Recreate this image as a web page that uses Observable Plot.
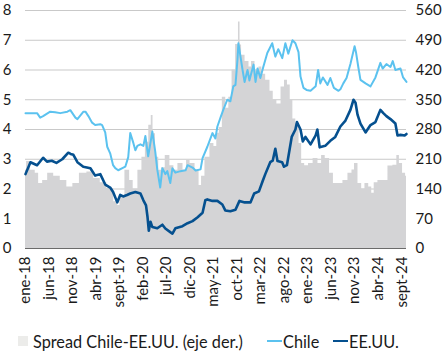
<!DOCTYPE html>
<html><head><meta charset="utf-8">
<script src="https://cdn.jsdelivr.net/npm/d3@7"></script>
<script src="https://cdn.jsdelivr.net/npm/@observablehq/plot@0.6"></script>
<style>
body{margin:0;background:#fff;font-family:Lato,"Open Sans",sans-serif;color:#1a1a1a;}
#wrap{position:relative;width:444px;height:351px;}
#legend{position:absolute;left:0;top:330px;width:444px;height:22px;font-size:16.3px;}
#legend .it{position:absolute;top:0;height:22px;display:flex;align-items:center;white-space:nowrap;}
#legend .sw{width:10px;height:10px;margin-right:5px;}
#legend .ln{width:15px;height:0;margin-right:1px;}
</style></head><body>
<div id="wrap"><div id="chart"></div>
<div id="legend">
  <div class="it" style="left:18px"><span class="sw" style="background:#ececea"></span>Spread Chile-EE.UU. (eje der.)</div>
  <div class="it" style="left:267px"><span class="ln" style="border-top:2.5px solid #5bc2ef"></span>Chile</div>
  <div class="it" style="left:333px"><span class="ln" style="border-top:2.5px solid #05508f"></span>EE.UU.</div>
</div></div>
<script>
const chileDates = ["2018-01-01","2018-02-02","2018-03-17","2018-04-06","2018-04-25","2018-06-10","2018-07-12","2018-08-14","2018-09-29","2018-10-18","2018-11-20","2018-12-03","2019-01-11","2019-01-24","2019-02-12","2019-03-08","2019-03-28","2019-04-30","2019-05-12","2019-06-01","2019-06-14","2019-07-03","2019-07-22","2019-08-05","2019-08-24","2019-09-20","2019-10-09","2019-10-28","2019-11-10","2019-11-30","2019-12-13","2019-12-26","2020-01-15","2020-02-03","2020-02-16","2020-03-05","2020-03-18","2020-04-01","2020-04-20","2020-05-03","2020-05-22","2020-06-05","2020-06-24","2020-07-07","2020-07-26","2020-08-09","2020-08-28","2020-09-30","2020-11-02","2020-11-15","2020-12-17","2021-01-06","2021-02-07","2021-02-20","2021-03-23","2021-04-25","2021-05-14","2021-05-27","2021-06-16","2021-07-04","2021-07-30","2021-08-19","2021-09-07","2021-09-21","2021-10-04","2021-10-10","2021-11-06","2021-11-19","2021-12-08","2021-12-20","2022-01-16","2022-01-29","2022-02-11","2022-03-01","2022-03-20","2022-04-15","2022-05-17","2022-06-06","2022-06-25","2022-07-21","2022-08-10","2022-08-29","2022-09-25","2022-10-14","2022-11-03","2022-11-16","2022-12-05","2022-12-25","2023-01-20","2023-02-22","2023-03-10","2023-03-24","2023-04-10","2023-05-10","2023-05-28","2023-06-20","2023-07-20","2023-08-01","2023-08-20","2023-09-10","2023-10-05","2023-11-01","2023-11-10","2023-11-25","2023-12-09","2024-01-11","2024-02-12","2024-03-15","2024-04-16","2024-05-01","2024-05-25","2024-06-20","2024-07-05","2024-07-22","2024-08-24","2024-09-10","2024-10-02"];
const chileRates = [4.55,4.55,4.55,4.4,4.45,4.6,4.58,4.55,4.6,4.65,4.4,4.35,4.6,4.6,4.45,4.23,4.15,4.18,4.15,3.9,3.42,3.2,2.8,2.7,2.63,2.7,2.75,3.07,3.88,3.55,3.3,3.45,3.5,3.45,3.78,3.1,3.5,3.93,3.25,2.65,2.05,2.7,2.5,2.6,2.2,2.7,2.55,2.6,2.63,2.8,2.72,2.62,2.66,3.04,3.42,3.88,3.7,4.1,4.4,4.66,5.0,4.95,5.45,5.5,6.35,6.9,6.0,5.6,6.0,5.65,6.18,5.6,6.05,5.73,6.1,6.57,6.9,6.45,6.7,6.4,6.9,6.55,7.0,6.9,6.6,5.78,5.4,5.33,5.3,5.45,6.0,5.55,5.75,5.5,5.73,5.4,5.3,5.35,5.55,5.73,6.2,6.8,6.6,6.1,5.67,5.55,5.45,5.75,6.24,6.05,6.2,6.1,6.3,6.0,6.05,5.75,5.6];

const usDates = ["2018-01-01","2018-02-02","2018-03-17","2018-04-25","2018-05-20","2018-06-20","2018-07-20","2018-08-27","2018-10-05","2018-10-20","2018-11-07","2018-12-03","2019-01-10","2019-02-25","2019-03-28","2019-04-30","2019-06-01","2019-07-03","2019-07-22","2019-08-18","2019-09-06","2019-09-25","2019-10-20","2019-11-10","2019-12-13","2020-01-15","2020-02-03","2020-02-20","2020-03-01","2020-03-09","2020-03-20","2020-04-01","2020-05-03","2020-06-05","2020-06-24","2020-07-26","2020-08-09","2020-08-28","2020-10-13","2020-11-15","2020-12-17","2021-01-19","2021-02-20","2021-03-10","2021-03-23","2021-04-25","2021-05-27","2021-06-28","2021-07-17","2021-08-19","2021-09-21","2021-10-17","2021-11-20","2021-12-27","2022-01-20","2022-02-20","2022-03-15","2022-04-02","2022-05-04","2022-05-20","2022-06-06","2022-06-20","2022-07-20","2022-08-01","2022-08-20","2022-09-20","2022-10-14","2022-10-24","2022-11-16","2022-12-01","2022-12-18","2023-01-20","2023-02-22","2023-03-05","2023-03-20","2023-04-25","2023-05-28","2023-06-29","2023-08-01","2023-09-03","2023-10-05","2023-10-25","2023-11-07","2023-11-20","2023-12-09","2024-01-11","2024-02-12","2024-03-15","2024-04-16","2024-05-05","2024-05-25","2024-06-20","2024-07-22","2024-08-05","2024-08-24","2024-09-20","2024-10-02"];
const usRates = [2.5,2.9,2.8,3.05,2.92,2.95,2.88,3.0,3.22,3.18,3.15,2.9,2.75,2.7,2.45,2.5,2.15,2.05,1.9,1.55,1.8,1.75,1.8,1.85,1.9,1.85,1.62,1.45,1.05,0.6,0.9,0.72,0.68,0.8,0.67,0.55,0.5,0.68,0.75,0.85,0.92,1.05,1.2,1.62,1.65,1.6,1.6,1.48,1.28,1.25,1.3,1.6,1.55,1.55,1.85,1.92,2.25,2.5,2.9,2.95,3.35,2.94,2.9,2.75,2.8,3.75,4.0,4.25,4.0,3.6,3.75,3.5,3.8,4.0,3.4,3.45,3.62,3.75,4.1,4.3,4.66,5.0,4.9,4.5,4.2,3.9,4.15,4.25,4.66,4.55,4.45,4.35,4.2,3.8,3.82,3.8,3.85];

const spreadDates = ["2018-01-01","2018-01-15","2018-02-21","2018-03-17","2018-04-06","2018-05-08","2018-06-10","2018-07-25","2018-09-03","2018-10-18","2018-11-20","2019-01-11","2019-02-25","2019-04-10","2019-05-20","2019-07-03","2019-08-18","2019-08-24","2019-09-15","2019-10-28","2019-11-15","2019-12-13","2020-01-15","2020-02-03","2020-02-29","2020-03-18","2020-04-01","2020-04-10","2020-05-03","2020-05-22","2020-06-10","2020-07-07","2020-08-09","2020-08-28","2020-09-30","2020-11-02","2020-11-15","2020-12-17","2021-01-19","2021-02-07","2021-02-20","2021-03-23","2021-04-25","2021-05-14","2021-06-01","2021-06-16","2021-07-10","2021-07-30","2021-08-19","2021-09-10","2021-10-04","2021-10-17","2021-10-24","2021-11-06","2021-12-08","2021-12-27","2022-01-10","2022-02-10","2022-03-01","2022-03-20","2022-04-20","2022-05-15","2022-06-01","2022-07-01","2022-07-25","2022-08-15","2022-09-01","2022-09-20","2022-10-05","2022-10-28","2022-11-16","2022-12-01","2022-12-25","2023-01-20","2023-02-22","2023-03-24","2023-04-10","2023-05-10","2023-06-05","2023-06-29","2023-08-01","2023-09-03","2023-10-05","2023-10-25","2023-11-07","2023-12-09","2023-12-25","2024-01-20","2024-02-12","2024-02-28","2024-03-15","2024-04-16","2024-05-19","2024-06-20","2024-07-22","2024-08-10","2024-08-24","2024-09-20","2024-10-02"];
const spreadBps = [185,205,184,177,153,160,177,170,160,145,153,177,180,165,155,141,110,101,125,184,160,140,184,215,250,290,313,270,215,184,190,219,195,184,200,184,207,200,184,148,170,215,247,240,271,285,356,330,356,420,480,533,479,455,440,427,440,420,427,410,396,370,349,340,380,396,385,349,305,294,247,200,195,200,212,200,219,212,177,153,153,160,177,185,200,153,140,153,145,130,155,160,160,194,196,219,200,177,170];

const tickDates = ["2018-01-01","2018-06-01","2018-11-01","2019-04-01","2019-09-01","2020-02-01","2020-07-01","2020-12-01","2021-05-01","2021-10-01","2022-03-01","2022-08-01","2023-01-01","2023-06-01","2023-11-01","2024-04-01","2024-09-01"];
const tickLabels = ["ene-18","jun-18","nov-18","abr-19","sept-19","feb-20","jul-20","dic-20","may-21","oct-21","mar-22","ago-22","ene-23","jun-23","nov-23","abr-24","sept-24"];
const yTicks = [0,1,2,3,4,5,6,7,8];
const rightFactor = 70;

const parse = d3.utcParse("%Y-%m-%d");
const chile = chileDates.map((d,i)=>({date:parse(d), v:chileRates[i]}));
const us = usDates.map((d,i)=>({date:parse(d), v:usRates[i]}));
const spread = spreadDates.map((d,i)=>({date:parse(d), v:spreadBps[i]/rightFactor}));
const ticks = tickDates.map(parse);
const labelMap = new Map(ticks.map((d,i)=>[+d, tickLabels[i]]));

const chart = Plot.plot({
  width:444, height:320,
  marginLeft:25, marginRight:38, marginTop:10, marginBottom:72,
  x:{type:"utc", domain:[parse("2018-01-01"), parse("2024-10-02")]},
  y:{domain:[0,8]},
  style:{fontFamily:"Lato, 'Open Sans', sans-serif", fontSize:"15px", color:"#1a1a1a", background:"#fff"},
  marks:[
    Plot.gridY(yTicks.slice(1), {stroke:"#c9c9c9", strokeOpacity:1}),
    Plot.areaY(spread, {x:"date", y:"v", fill:"#d4d4d6", curve:"step"}),
    Plot.lineY(chile, {x:"date", y:"v", stroke:"#5bc2ef", strokeWidth:2}),
    Plot.lineY(us, {x:"date", y:"v", stroke:"#05508f", strokeWidth:2.6}),
    Plot.ruleY([0], {stroke:"#6b6b6b", strokeWidth:1.2}),
    Plot.axisY(yTicks, {anchor:"left", tickSize:0, tickPadding:14, label:null}),
    Plot.axisY(yTicks, {anchor:"right", tickSize:0, tickPadding:9, tickFormat:d=>d*rightFactor, label:null}),
    Plot.axisX(ticks, {anchor:"bottom", tickSize:0, tickPadding:8, tickRotate:-90, tickFormat:d=>labelMap.get(+d), label:null})
  ]
});
document.getElementById("chart").appendChild(chart);
</script>
</body></html>
